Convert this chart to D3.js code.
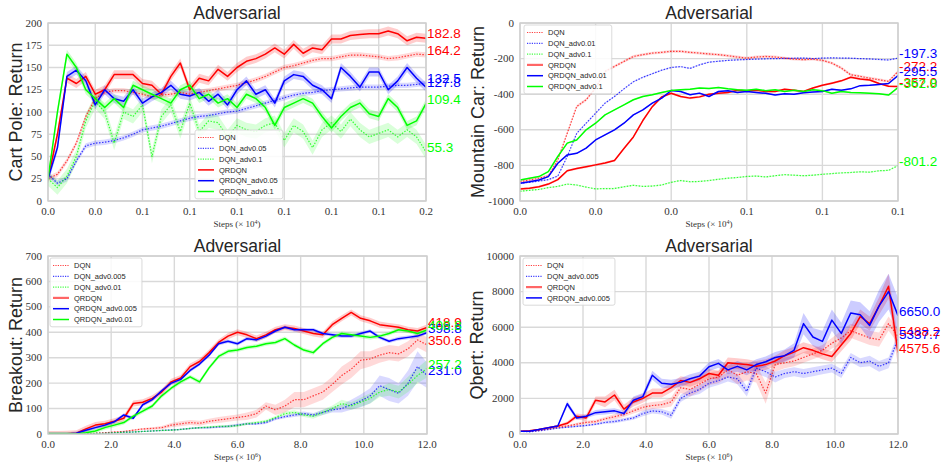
<!DOCTYPE html>
<html>
<head>
<meta charset="utf-8">
<script src="https://cdn.jsdelivr.net/npm/d3@7"></script>
<style>
  body { margin: 0; background: #fff; }
  text { font-family: "Liberation Sans", Arial, sans-serif; fill: #262626; }
  .tick-label { font-family: "Liberation Serif", "Times New Roman", serif; font-size: 11px; fill: #333; }
  .x-label { font-family: "Liberation Serif", "Times New Roman", serif; font-size: 9px; fill: #333; }
</style>
</head>
<body>
<svg id="fig" width="943" height="464"></svg>
<script>
// ---------- Cart Pole ----------
const cartNames = ["DQN", "DQN_adv0.05", "DQN_adv0.1", "QRDQN", "QRDQN_adv0.05", "QRDQN_adv0.1"];
const cartXTickLabels = ["0.0", "0.0", "0.1", "0.1", "0.1", "0.1", "0.1", "0.1", "0.2"];
const cartYTicks = [0, 25, 50, 75, 100, 125, 150, 175, 200];
const cartDQN = [25,30,45,65,95,115,122,124,124,122,120,117,119,120,122,120,122,124,126,128,130,133,136,140,145,150,152,155,158,160,160,162,164,164,163,162,160,161,163,165,164.2];
const cartDQNadv005 = [30,20,25,45,62,65,66,68,71,75,80,82,84,87,90,93,95,96,98,100,101,104,107,110,113,116,119,121,122,124,125,126,127,128,128,128,129,130,130,131,132.5];
const cartDQNadv01 = [25,15,28,50,90,112,100,65,100,95,108,50,95,108,78,110,78,90,88,72,85,80,78,85,88,68,85,78,60,80,88,78,92,80,72,76,80,72,80,72,55.3];
const cartQR = [25,75,138,132,140,120,125,142,142,142,132,130,120,140,155,125,138,135,148,140,150,157,160,165,172,165,176,166,172,170,182,182,186,187,188,188,191,188,180,184,182.8];
const cartQRadv005 = [25,60,140,147,135,108,125,115,112,125,110,117,122,130,120,118,122,112,120,108,125,135,120,125,110,135,142,140,130,125,115,150,140,128,145,145,125,135,150,138,127.8];
const cartQRadv01 = [25,100,165,150,125,115,105,115,105,130,125,120,115,110,125,130,115,120,110,115,105,120,115,105,85,105,110,115,110,95,82,95,105,110,98,95,115,105,85,90,109.4];
const cartSpread = [3, 3, 8, 5, 5, 5];

// ---------- Mountain Car ----------
const mcNames = ["DQN", "DQN_adv0.01", "DQN_adv0.1", "QRDQN", "QRDQN_adv0.01", "QRDQN_adv0.1"];
const mcXTickLabels = ["0.0", "0.0", "0.0", "0.1", "0.1", "0.1"];
const mcYTicks = [-1000, -800, -600, -400, -200, 0];
const mcDQN = [-891,-882,-872,-859,-769,-619,-469,-431,-366,-272,-244,-216,-188,-178,-169,-165,-159,-159,-165,-169,-174,-178,-184,-191,-197,-191,-188,-191,-197,-203,-206,-203,-210,-225,-253,-291,-300,-310,-319,-328,-272.2];
const mcDQNadv001 = [-900,-895,-888,-880,-860,-750,-620,-563,-507,-450,-413,-370,-330,-305,-285,-265,-250,-245,-255,-235,-220,-215,-210,-207,-205,-203,-201,-200,-199,-198,-197,-200,-197,-196,-197,-198,-200,-202,-205,-208,-197.3];
const mcDQNadv01 = [-945,-940,-935,-925,-918,-905,-910,-922,-932,-930,-930,-920,-912,-918,-916,-910,-895,-885,-892,-890,-885,-878,-872,-868,-862,-860,-865,-858,-852,-855,-858,-855,-850,-846,-842,-840,-836,-838,-830,-828,-801.2];
const mcQR = [-932,-928,-920,-905,-880,-830,-818,-808,-797,-786,-772,-705,-640,-548,-470,-415,-395,-413,-422,-415,-400,-395,-390,-378,-382,-378,-385,-385,-372,-378,-385,-365,-350,-338,-325,-305,-315,-320,-340,-355,-357.0];
const mcQRadv001 = [-900,-892,-882,-863,-788,-741,-732,-703,-657,-628,-600,-563,-516,-488,-450,-422,-379,-385,-403,-394,-413,-385,-380,-390,-385,-390,-395,-405,-398,-400,-392,-388,-385,-372,-378,-370,-352,-350,-345,-340,-295.5];
const mcQRadv01 = [-882,-872,-863,-835,-750,-675,-657,-600,-563,-516,-488,-460,-431,-413,-403,-390,-379,-375,-372,-365,-368,-362,-370,-375,-378,-372,-380,-375,-385,-378,-385,-375,-380,-395,-385,-390,-392,-395,-398,-405,-362.8];
const mcSpread = [8, 4, 4, 6, 4, 4];

// ---------- Breakout ----------
const bkNames = ["DQN", "DQN_adv0.005", "DQN_adv0.01", "QRDQN", "QRDQN_adv0.005", "QRDQN_adv0.01"];
const bkXTickLabels = ["0.0", "2.0", "4.0", "6.0", "8.0", "10.0", "12.0"];
const bkYTicks = [0, 100, 200, 300, 400, 500, 600, 700];
const bkDQN = [0,0,0,0,2,3,5,8,10,15,20,22,25,35,40,45,42,50,55,60,65,70,80,110,95,110,135,135,150,165,195,230,255,290,295,310,320,315,335,370,350.6];
const bkDQNadv0005 = [0,0,0,0,0,2,3,5,7,8,10,12,14,16,18,22,25,25,28,30,35,40,40,45,60,68,75,80,75,85,95,100,115,130,150,190,175,160,200,265,231.0];
const bkDQNadv001 = [0,0,0,0,0,2,3,5,7,8,10,12,14,15,18,22,25,27,30,30,33,40,45,50,65,80,85,75,70,85,100,120,110,125,140,165,175,165,195,230,257.2];
const bkQR = [0,0,1,3,20,35,40,50,62,120,125,140,165,205,220,265,285,320,360,385,400,390,375,390,410,420,415,405,395,390,430,455,478,455,445,430,425,420,410,405,418.9];
const bkQRadv0005 = [0,0,0,3,15,25,35,48,75,62,115,135,170,200,215,250,275,310,355,365,355,375,370,385,405,420,410,410,410,395,390,385,385,395,405,380,365,375,380,385,398.8];
const bkQRadv001 = [0,0,0,0,5,12,25,35,45,70,90,110,150,180,205,225,205,260,305,325,330,340,345,355,360,375,350,330,320,355,380,395,390,385,380,385,395,410,405,395,408.8];
const bkSpreadDQN = [0,0,0,0,1,1,2,2,3,3,4,5,6,8,10,10,10,10,12,12,12,15,15,15,20,25,30,30,30,30,30,35,35,35,30,30,30,30,30,30,30];
const bkSpreadDQNadv0005 = [0,0,0,0,0,1,1,1,2,2,2,2,3,3,3,3,4,4,4,5,5,5,5,6,6,6,8,8,8,10,10,15,20,25,30,40,45,40,50,60,50];
const bkSpreadDQNadv001 = [0,0,0,0,0,1,1,1,2,2,2,2,3,3,3,3,4,4,4,5,5,5,5,6,6,8,8,8,10,10,12,15,15,18,20,20,25,25,30,30,35];
const bkSpreadQR = 12, bkSpreadQRadv0005 = 7, bkSpreadQRadv001 = 8;

// ---------- Qbert ----------
const qbNames = ["DQN", "DQN_adv0.005", "QRDQN", "QRDQN_adv0.005"];
const qbXTickLabels = ["0.0", "2.0", "4.0", "6.0", "8.0", "10.0", "12.0"];
const qbYTicks = [0, 2000, 4000, 6000, 8000, 10000];
const qbDQN = [150,150,200,280,380,450,550,650,700,850,970,1100,1300,1500,1600,1650,1800,2600,2500,2800,3100,3200,3600,3300,3500,3400,2300,3900,4000,4100,4300,4500,4700,5100,5400,5800,5600,5400,5300,6200,5488.2];
const qbDQNadv0005 = [150,120,180,250,330,380,430,480,550,650,700,800,900,1150,1300,1250,1050,2000,2300,2500,2850,3000,3200,3100,2400,3700,3500,3200,3400,3500,3400,3500,3600,3700,3400,4300,4000,4100,3800,4000,5337.7];
const qbQR = [150,180,250,350,450,600,1000,900,1900,1800,2190,1400,1800,2000,2300,2300,2600,3000,2900,3100,3400,3300,4000,3950,3900,3800,3900,4100,4400,4600,4850,4700,4500,4350,5000,5650,6600,6200,7200,8300,4575.6];
const qbQRadv0005 = [150,150,250,350,450,1700,900,1000,1200,1250,1300,1150,1900,2100,3300,2850,2800,2900,3100,3250,3780,3970,3600,3800,3600,3900,4060,4300,4400,4700,6200,5450,5200,6400,5650,6800,6700,6100,7200,8000,6650.0];
const qbSpreadDQN = [20,20,30,40,50,60,80,100,100,100,150,150,150,200,200,200,250,300,400,400,350,350,400,500,500,500,600,400,300,300,300,300,300,300,400,400,400,400,400,400,400];
const qbSpreadDQNadv0005 = [20,20,30,30,40,40,50,60,60,80,100,100,100,150,150,150,200,200,200,250,250,250,250,300,300,300,300,300,250,250,250,250,250,250,250,250,250,300,300,300,300];
const qbSpreadQR = [20,30,40,50,60,100,150,200,200,300,300,250,250,250,250,250,250,250,250,250,250,250,300,300,300,300,300,300,300,300,300,300,300,300,350,400,400,400,500,700,800];
const qbSpreadQRadv0005 = [20,30,40,50,60,150,120,100,150,150,150,150,200,200,250,250,250,250,250,250,250,250,250,300,300,300,300,300,350,400,600,500,600,600,600,700,700,800,900,1000,1000];

// ---------- styles ----------
const RED = "#ff0000", BLUE = "#0000ff", GREEN = "#00ff00";

const panels = [
  {
    ylabel: "Cart Pole: Return", box: { l: 48, t: 23, r: 426, b: 201 }, ylabelX: 22,
    xMax: 0.2, yDomain: [0, 200], yTicks: cartYTicks, xTickLabels: cartXTickLabels, pow: "4",
    series: [
      { name: cartNames[0], values: cartDQN, spread: cartSpread[0], color: RED, dotted: true },
      { name: cartNames[1], values: cartDQNadv005, spread: cartSpread[1], color: BLUE, dotted: true },
      { name: cartNames[2], values: cartDQNadv01, spread: cartSpread[2], color: GREEN, dotted: true },
      { name: cartNames[3], values: cartQR, spread: cartSpread[3], color: RED },
      { name: cartNames[4], values: cartQRadv005, spread: cartSpread[4], color: BLUE },
      { name: cartNames[5], values: cartQRadv01, spread: cartSpread[5], color: GREEN }
    ],
    legend: { x: 195, y: 130 }
  },
  {
    ylabel: "Mountain Car: Return", box: { l: 520, t: 23, r: 898, b: 201 }, ylabelX: 484,
    xMax: 0.1, yDomain: [-1000, 0], yTicks: mcYTicks, xTickLabels: mcXTickLabels, pow: "4",
    series: [
      { name: mcNames[0], values: mcDQN, spread: mcSpread[0], color: RED, dotted: true },
      { name: mcNames[1], values: mcDQNadv001, spread: mcSpread[1], color: BLUE, dotted: true },
      { name: mcNames[2], values: mcDQNadv01, spread: mcSpread[2], color: GREEN, dotted: true },
      { name: mcNames[3], values: mcQR, spread: mcSpread[3], color: RED, thickKey: true },
      { name: mcNames[4], values: mcQRadv001, spread: mcSpread[4], color: BLUE },
      { name: mcNames[5], values: mcQRadv01, spread: mcSpread[5], color: GREEN }
    ],
    legend: { x: 524, y: 25 }
  },
  {
    ylabel: "Breakout: Return", box: { l: 48, t: 256, r: 427, b: 434 }, ylabelX: 22,
    xMax: 12, yDomain: [0, 700], yTicks: bkYTicks, xTickLabels: bkXTickLabels, pow: "6",
    series: [
      { name: bkNames[0], values: bkDQN, spread: bkSpreadDQN, color: RED, dotted: true },
      { name: bkNames[1], values: bkDQNadv0005, spread: bkSpreadDQNadv0005, color: BLUE, dotted: true },
      { name: bkNames[2], values: bkDQNadv001, spread: bkSpreadDQNadv001, color: GREEN, dotted: true },
      { name: bkNames[3], values: bkQR, spread: bkSpreadQR, color: RED, thickKey: true },
      { name: bkNames[4], values: bkQRadv0005, spread: bkSpreadQRadv0005, color: BLUE },
      { name: bkNames[5], values: bkQRadv001, spread: bkSpreadQRadv001, color: GREEN }
    ],
    legend: { x: 50, y: 258 }
  },
  {
    ylabel: "Qbert: Return", box: { l: 520, t: 256, r: 898, b: 434 }, ylabelX: 483,
    xMax: 12, yDomain: [0, 10000], yTicks: qbYTicks, xTickLabels: qbXTickLabels, pow: "6",
    series: [
      { name: qbNames[0], values: qbDQN, spread: qbSpreadDQN, color: RED, dotted: true },
      { name: qbNames[1], values: qbDQNadv0005, spread: qbSpreadDQNadv0005, color: BLUE, dotted: true },
      { name: qbNames[2], values: qbQR, spread: qbSpreadQR, color: RED, thickKey: true },
      { name: qbNames[3], values: qbQRadv0005, spread: qbSpreadQRadv0005, color: BLUE }
    ],
    legend: { x: 523, y: 258 }
  }
];

const svg = d3.select("#fig");
svg.append("rect").attr("width", 943).attr("height", 464).attr("fill", "#fff");
const GRID = "#d9d9d9";

panels.forEach((p, pi) => {
  const { l, t, r, b } = p.box;
  const n = p.series[0].values.length;
  const steps = d3.range(n).map(i => i * p.xMax / (n - 1));
  const x = d3.scaleLinear().domain([0, p.xMax]).range([l, r]);
  const y = d3.scaleLinear().domain(p.yDomain).range([b, t]);
  const g = svg.append("g");

  // grid
  const xTickVals = d3.range(p.xTickLabels.length).map(i => i * p.xMax / (p.xTickLabels.length - 1));
  g.append("g").selectAll("line").data(xTickVals).join("line")
    .attr("x1", d => x(d)).attr("x2", d => x(d)).attr("y1", t).attr("y2", b)
    .attr("stroke", GRID).attr("stroke-width", 1.4);
  g.append("g").selectAll("line").data(p.yTicks).join("line")
    .attr("x1", l).attr("x2", r).attr("y1", d => y(d)).attr("y2", d => y(d))
    .attr("stroke", GRID).attr("stroke-width", 1.4);

  // tick labels
  g.append("g").selectAll("text").data(xTickVals).join("text")
    .attr("class", "tick-label").attr("x", d => x(d)).attr("y", b + 14)
    .attr("text-anchor", "middle").text((d, i) => p.xTickLabels[i]);
  g.append("g").selectAll("text").data(p.yTicks).join("text")
    .attr("class", "tick-label").attr("x", l - 6).attr("y", d => y(d)).attr("dy", "0.33em")
    .attr("text-anchor", "end").text(d => d);

  // clip
  const clipId = "clip" + pi;
  svg.append("clipPath").attr("id", clipId).append("rect")
    .attr("x", l).attr("y", t).attr("width", r - l).attr("height", b - t);
  const plot = g.append("g").attr("clip-path", `url(#${clipId})`);

  const spreadAt = (s, i) => Array.isArray(s.spread) ? s.spread[i] : s.spread;
  const area = s => d3.area()
    .x((d, i) => x(steps[i]))
    .y0((d, i) => y(d - spreadAt(s, i)))
    .y1((d, i) => y(d + spreadAt(s, i)));
  const line = d3.line().x((d, i) => x(steps[i])).y(d => y(d));

  p.series.forEach(s => {
    plot.append("path").datum(s.values).attr("d", area(s))
      .attr("fill", s.color).attr("fill-opacity", s.dotted ? 0.15 : 0.2).attr("stroke", "none");
  });
  p.series.forEach(s => {
    plot.append("path").datum(s.values).attr("d", line)
      .attr("fill", "none").attr("stroke", s.color)
      .attr("stroke-width", s.dotted ? 1.2 : 1.5)
      .attr("stroke-opacity", s.dotted ? 0.75 : 1)
      .attr("stroke-dasharray", s.dotted ? "1.5,1.5" : null)
      .attr("stroke-linejoin", "round");
  });

  // frame
  g.append("rect").attr("x", l).attr("y", t).attr("width", r - l).attr("height", b - t)
    .attr("fill", "none").attr("stroke", "#cfcfcf").attr("stroke-width", 1.4);

  // final-value labels
  p.series.forEach(s => {
    const last = s.values[s.values.length - 1];
    g.append("text").attr("x", r + 1).attr("y", y(last))
      .attr("font-size", 13.5).style("fill", s.color).text(last.toFixed(1));
  });

  // title and axis labels
  g.append("text").attr("x", (l + r) / 2).attr("y", t - 4).attr("text-anchor", "middle")
    .attr("font-size", 17.5).text("Adversarial");
  g.append("text").attr("transform", `translate(${p.ylabelX},${(t + b) / 2}) rotate(-90)`)
    .attr("text-anchor", "middle").attr("font-size", 18).text(p.ylabel);
  const xl = g.append("text").attr("class", "x-label").attr("x", (l + r) / 2).attr("y", b + 26)
    .attr("text-anchor", "middle");
  xl.append("tspan").text("Steps (\u00d7 10");
  xl.append("tspan").attr("font-size", 6).attr("dy", -3.5).text(p.pow);
  xl.append("tspan").attr("dy", 3.5).text(")");

  // legend
  const lg = g.append("g").attr("transform", `translate(${p.legend.x},${p.legend.y})`);
  const rowH = 10.8;
  const box = lg.append("rect").attr("rx", 2).attr("fill", "#fff").attr("fill-opacity", 0.85)
    .attr("stroke", "#d0d0d0").attr("stroke-width", 0.8);
  let maxW = 0;
  p.series.forEach((s, i) => {
    const cy = 7.5 + i * rowH;
    lg.append("line").attr("x1", 3).attr("x2", 19).attr("y1", cy).attr("y2", cy)
      .attr("stroke", s.color)
      .attr("stroke-width", s.thickKey ? 2.2 : (s.dotted ? 1.2 : 1.5))
      .attr("stroke-opacity", s.dotted ? 0.75 : (s.thickKey ? 0.6 : 1))
      .attr("stroke-dasharray", s.dotted ? "1.2,1.2" : null);
    const tx = lg.append("text").attr("x", 24).attr("y", cy).attr("dy", "0.35em")
      .attr("font-size", 7.5).text(s.name);
    maxW = Math.max(maxW, tx.node().getComputedTextLength());
  });
  box.attr("width", 24 + maxW + 5).attr("height", p.series.length * rowH + 4);
});
</script>
</body>
</html>
